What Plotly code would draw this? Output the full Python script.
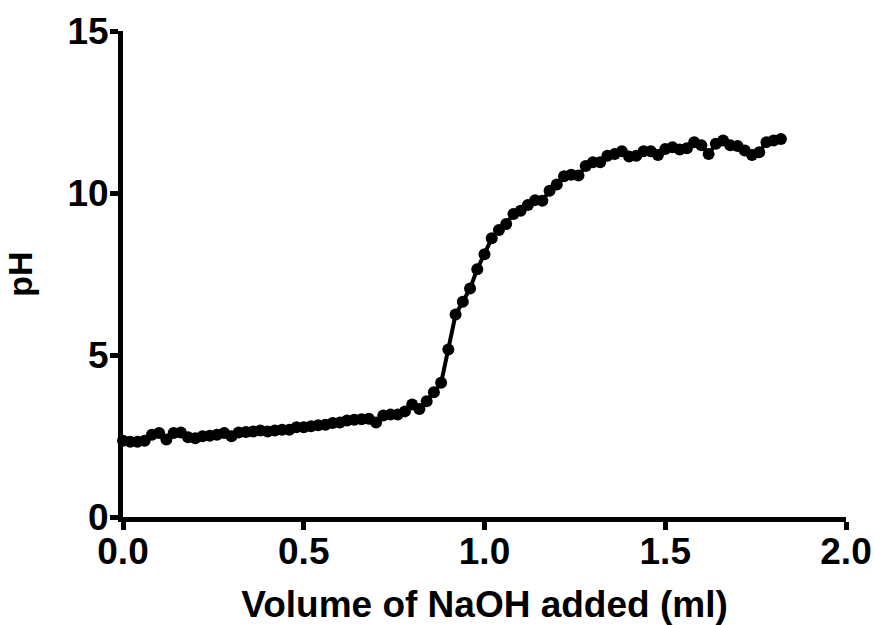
import plotly.graph_objects as go

volume_ml = [round(0.02 * i, 2) for i in range(92)]
ph = [
    2.35, 2.32, 2.32, 2.35, 2.54, 2.59, 2.39, 2.59, 2.61, 2.46,
    2.43, 2.49, 2.51, 2.54, 2.59, 2.49, 2.61, 2.62, 2.64, 2.67,
    2.64, 2.67, 2.69, 2.69, 2.77, 2.77, 2.80, 2.83, 2.85, 2.90,
    2.92, 2.98, 3.00, 3.02, 3.03, 2.92, 3.13, 3.16, 3.16, 3.26,
    3.47, 3.33, 3.57, 3.85, 4.14, 5.17, 6.25, 6.64, 7.05, 7.65,
    8.11, 8.60, 8.86, 9.04, 9.35, 9.45, 9.63, 9.78, 9.76, 10.07,
    10.26, 10.52, 10.56, 10.54, 10.83, 10.95, 10.95, 11.15, 11.20, 11.29,
    11.13, 11.15, 11.29, 11.29, 11.17, 11.36, 11.41, 11.34, 11.38, 11.57,
    11.47, 11.20, 11.52, 11.62, 11.47, 11.45, 11.31, 11.17, 11.26, 11.57,
    11.62, 11.67,
]

x_ticks = [0.0, 0.5, 1.0, 1.5, 2.0]
x_tick_labels = ["0.0", "0.5", "1.0", "1.5", "2.0"]
y_ticks = [0, 5, 10, 15]
y_tick_labels = ["0", "5", "10", "15"]

FONT = "Liberation Sans"

fig = go.Figure()
fig.add_trace(go.Scatter(
    x=volume_ml, y=ph, mode="lines+markers",
    line=dict(color="black", width=4),
    marker=dict(color="black", size=12),
    cliponaxis=False, showlegend=False,
))

fig.update_layout(
    width=874, height=625,
    margin=dict(l=123, r=28, t=31, b=108),
    paper_bgcolor="white", plot_bgcolor="white",
    font=dict(family=FONT, color="black"),
)
fig.update_xaxes(
    range=[0, 2], tickvals=x_ticks, ticktext=x_tick_labels,
    showline=True, linecolor="black", linewidth=5,
    ticks="outside", ticklen=8, tickwidth=5, tickcolor="black",
    showgrid=False, zeroline=False, automargin=False,
    ticklabelstandoff=-10,
    tickfont=dict(family=FONT, size=37, color="black", weight="bold"),
    title=dict(text="<b>Volume of NaOH added (ml)</b>", standoff=22,
               font=dict(family=FONT, size=37, color="black")),
)
fig.update_yaxes(
    range=[0, 15], tickvals=y_ticks, ticktext=y_tick_labels,
    showline=True, linecolor="black", linewidth=5,
    ticks="outside", ticklen=8, tickwidth=5, tickcolor="black",
    showgrid=False, zeroline=False, automargin=False,
    ticklabelstandoff=-6,
    tickfont=dict(family=FONT, size=37, color="black", weight="bold"),
    title=dict(text="<b>pH</b>", standoff=26,
               font=dict(family=FONT, size=34, color="black")),
)

fig.write_html("out.html")
